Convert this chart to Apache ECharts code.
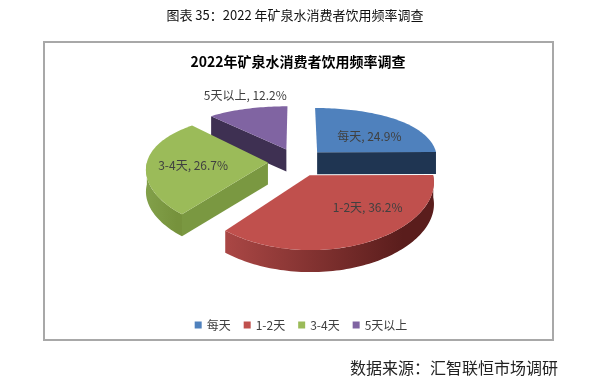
<!DOCTYPE html>
<html><head><meta charset="utf-8">
<script src="https://cdn.jsdelivr.net/npm/echarts@6/dist/echarts.min.js"></script>
<style>html,body{margin:0;padding:0;background:#fff}#c{width:602px;height:392px}</style>
</head><body><div id="c"></div>
<script>
// ---- data ----
const categories = ['每天', '1-2天', '3-4天', '5天以上'];
const values = [24.9, 36.2, 26.7, 12.2];
const chartTitle = '2022年矿泉水消费者饮用频率调查';
const caption = '图表 35：2022 年矿泉水消费者饮用频率调查';
const sourceText = '数据来源：汇智联恒市场调研';

// ---- styles / layout ----
const topColors = ['#4F81BD', '#C0504D', '#9BBB59', '#8064A2'];
const faceColors = ['#1F3552', '#8B3A38', '#7A9841', '#3E3052'];
const sideLight = ['#3E6595', '#AA4745', '#82A04A', '#654F82'];
const sideDark = ['#2A4466', '#5A1D1C', '#76923C', '#4A3A60'];
const labelRadius = [0.6, 0.6, 0.6, 1.3];
const labelNudge = [[5, 6], [24, -6], [-2, 2], [8, -5]];
const G = { cx: 297, cy: 162, rx: 121, ry: 59, q: 11, k: 0.1, e: 0.24, h: 22 };
const FONT = '"Noto Sans CJK SC", "Noto Sans", sans-serif';

const total = values.reduce((a, b) => a + b, 0);
const starts = values.map((v, i) => values.slice(0, i).reduce((a, b) => a + b, 0));

function proj(u, v, z) {
  return [G.cx + G.rx * u * (1 + G.k * v), G.cy + G.ry * v + G.q * v * v + z];
}
// depth rank of each slice (back first)
const offV = values.map((v, i) => {
  const b = ((starts[i] + v / 2) / total) * Math.PI * 2;
  return -G.e * Math.cos(b);
});
const order = offV.map((v, i) => i).sort((a, b) => offV[a] - offV[b]);
const rank = []; order.forEach((idx, r) => { rank[idx] = r; });

function makeRender(i) {
  return function (params, api) {
    const start = api.value(0), val = api.value(1);
    const a0 = start / total * Math.PI * 2;
    const a1 = (start + val) / total * Math.PI * 2;
    const b = (a0 + a1) / 2;
    const ou = G.e * Math.sin(b), ov = -G.e * Math.cos(b);
    const pt = (a, r, z) => proj(ou + r * Math.sin(a), ov - r * Math.cos(a), z);
    const base = rank[i] * 10;
    const children = [];
    const arc = (from, to, z) => {
      const n = Math.max(2, Math.ceil((to - from) / (Math.PI / 120)));
      const pts = [];
      for (let s = 0; s <= n; s++) pts.push(pt(from + (to - from) * s / n, 1, z));
      return pts;
    };
    // outer side wall (front-facing part)
    const lo = Math.max(a0, Math.PI / 2), hi = Math.min(a1, Math.PI * 1.5);
    if (lo < hi) {
      const topArc = arc(lo, hi, 0);
      const botArc = arc(lo, hi, G.h).reverse();
      children.push({
        type: 'polygon', z2: base + 2,
        shape: { points: topArc.concat(botArc) },
        style: {
          fill: { type: 'linear', x: 0, y: 0, x2: 1, y2: 0,
            colorStops: [{ offset: 0, color: sideLight[i] }, { offset: 0.85, color: sideDark[i] }, { offset: 1, color: sideDark[i] }] },
          stroke: null
        }
      });
    }
    // radial faces
    const c0 = proj(ou, ov, 0), c1 = proj(ou, ov, G.h);
    if (Math.sin(a0) < -1e-6) {
      children.push({ type: 'polygon', z2: base + 3,
        shape: { points: [c0, pt(a0, 1, 0), pt(a0, 1, G.h), c1] },
        style: { fill: faceColors[i] } });
    }
    if (Math.sin(a1) > 1e-6) {
      children.push({ type: 'polygon', z2: base + 3,
        shape: { points: [c0, pt(a1, 1, 0), pt(a1, 1, G.h), c1] },
        style: { fill: faceColors[i] } });
    }
    // top face
    children.push({ type: 'polygon', z2: base + 5,
      shape: { points: [c0].concat(arc(a0, a1, 0)) },
      style: { fill: topColors[i] } });
    // label
    const lp = pt(b, labelRadius[i], 0);
    children.push({ type: 'text', z2: 200,
      x: lp[0] + labelNudge[i][0], y: lp[1] + labelNudge[i][1],
      style: { text: categories[i] + ', ' + val.toFixed(1) + '%', fill: '#404040',
        font: '12px ' + FONT, align: 'center', verticalAlign: 'middle',
        textAlign: 'center', textVerticalAlign: 'middle' } });
    return { type: 'group', children: children };
  };
}

const chart = echarts.init(document.getElementById('c'), null, { renderer: 'canvas' });
chart.setOption({
  backgroundColor: '#fff',
  animation: false,
  legend: {
    data: categories, left: 'center', top: 314,
    icon: 'rect', itemWidth: 7, itemHeight: 7, itemGap: 13,
    textStyle: { fontSize: 12, color: '#404040', fontFamily: FONT }
  },
  graphic: [
    { type: 'rect', shape: { x: 44, y: 42, width: 509, height: 298 },
      style: { fill: 'none', stroke: '#A8A8A8', lineWidth: 2 } },
    { type: 'text', x: 295, y: 15, style: { text: caption, fill: '#111',
      font: '13px ' + FONT, align: 'center', verticalAlign: 'middle', textAlign: 'center', textVerticalAlign: 'middle' } },
    { type: 'text', x: 298, y: 62, style: { text: chartTitle, fill: '#000',
      font: 'bold 14px ' + FONT, align: 'center', verticalAlign: 'middle', textAlign: 'center', textVerticalAlign: 'middle' } },
    { type: 'text', x: 558, y: 368, style: { text: sourceText, fill: '#222',
      font: '16px ' + FONT, align: 'right', verticalAlign: 'middle', textAlign: 'right', textVerticalAlign: 'middle' } }
  ],
  series: categories.map((name, i) => ({
    type: 'custom', name: name, coordinateSystem: 'none',
    itemStyle: { color: topColors[i] },
    renderItem: makeRender(i),
    data: [[starts[i], values[i]]]
  }))
});
</script>
</body></html>
